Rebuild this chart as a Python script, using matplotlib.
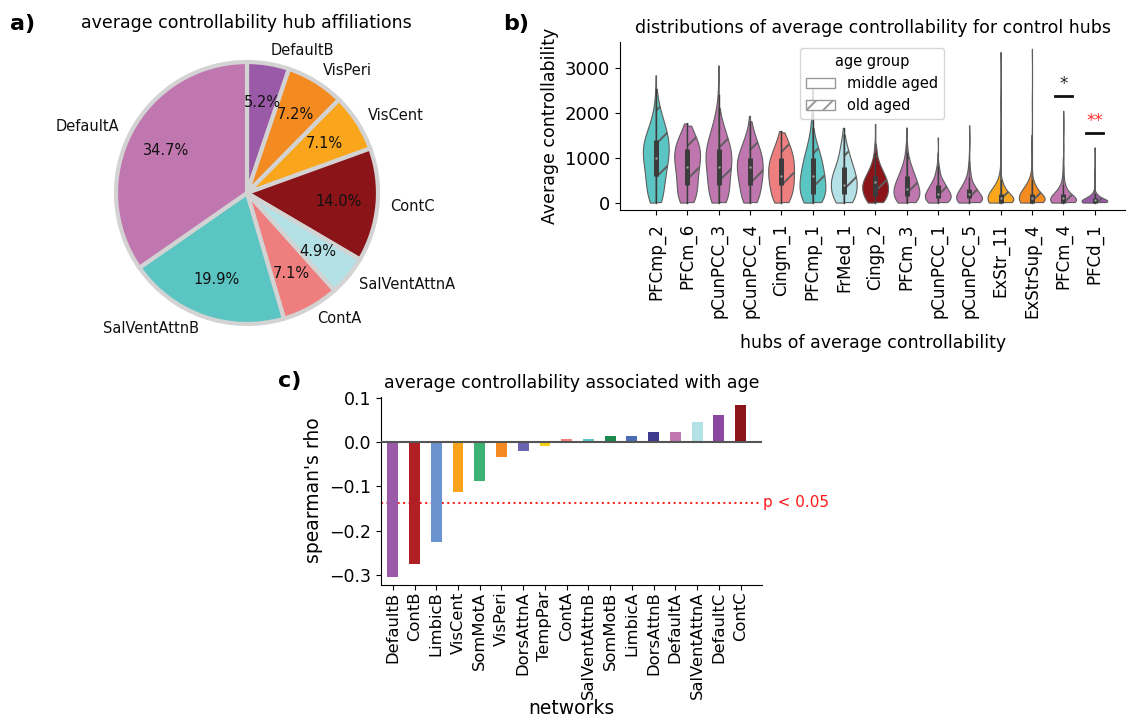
import numpy as np
import matplotlib
matplotlib.use('Agg')
import matplotlib.pyplot as plt
import matplotlib.transforms as mtransforms
from matplotlib.patches import Patch

# ---------------- Panel a: pie ----------------
pie_labels = ['DefaultB', 'VisPeri', 'VisCent', 'ContC', 'SalVentAttnA',
              'ContA', 'SalVentAttnB', 'DefaultA']
pie_values = [5.2, 7.2, 7.1, 14.0, 4.9, 7.1, 19.9, 34.7]
pie_colors = ['#9B5AA8', '#F48B21', '#F9A61C', '#8B1419', '#B3E1E6',
              '#EF7F7F', '#5BC5C4', '#C076AF']

# ---------------- Panel b: violins ----------------
hubs = ['PFCmp_2', 'PFCm_6', 'pCunPCC_3', 'pCunPCC_4', 'Cingm_1', 'PFCmp_1',
        'FrMed_1', 'Cingp_2', 'PFCm_3', 'pCunPCC_1', 'pCunPCC_5', 'ExStr_11',
        'ExStrSup_4', 'PFCm_4', 'PFCd_1']
hub_colors = ['#5BC5C4', '#C076AF', '#C076AF', '#C076AF', '#EF7F7F', '#5BC5C4',
              '#B3E1E6', '#8B1419', '#C076AF', '#C076AF', '#C076AF', '#F9A61C',
              '#F48B21', '#C076AF', '#9B5AA8']

# estimated value / frequency tables read from the violin shapes
mid_vals = [
    [0, 200, 400, 600, 800, 1000, 1200, 1400, 1600, 1800, 2000, 2300, 2830],
    [0, 200, 400, 600, 800, 1000, 1200, 1400, 1600, 1760],
    [0, 200, 400, 600, 800, 1000, 1200, 1400, 1600, 1800, 2000, 2400, 3050],
    [0, 200, 400, 600, 800, 1000, 1200, 1400, 1600, 1930],
    [0, 200, 400, 600, 800, 1000, 1200, 1400, 1590],
    [0, 200, 400, 600, 800, 1000, 1200, 1400, 1700, 2000, 2550],
    [0, 200, 400, 600, 800, 1000, 1200, 1400, 1660],
    [0, 150, 300, 450, 600, 750, 900, 1100, 1350, 1750],
    [0, 150, 300, 450, 600, 750, 900, 1100, 1300, 1670],
    [0, 100, 200, 300, 400, 500, 650, 800, 1000, 1450],
    [0, 100, 200, 300, 400, 500, 650, 850, 1100, 1720],
    [0, 100, 200, 300, 400, 500, 700, 1000, 1500, 2200, 3350],
    [0, 100, 200, 300, 400, 500, 700, 1000, 1500, 2200, 3420],
    [0, 100, 200, 300, 400, 550, 750, 1000, 1400, 2040],
    [0, 50, 100, 150, 200, 300, 450, 700, 1230],
]
mid_counts = [
    [5, 6, 6, 6, 7, 8, 9, 8, 5, 3, 2, 1, 1],
    [6, 6, 6, 6, 7, 8, 8, 6, 3, 1],
    [6, 6, 6, 6, 7, 8, 8, 6, 4, 3, 2, 1, 1],
    [6, 6, 7, 8, 9, 9, 6, 4, 2, 1],
    [6, 7, 8, 9, 9, 8, 5, 3, 1],
    [8, 9, 9, 8, 7, 6, 4, 3, 2, 1, 1],
    [7, 9, 10, 9, 6, 4, 3, 2, 1],
    [8, 10, 12, 12, 8, 5, 3, 2, 1, 1],
    [10, 12, 12, 10, 7, 5, 3, 2, 1, 1],
    [12, 14, 12, 9, 7, 5, 4, 2, 1, 1],
    [15, 14, 11, 8, 6, 4, 3, 2, 1, 1],
    [30, 25, 15, 8, 5, 3, 2, 1, 1, 1, 1],
    [28, 25, 16, 9, 5, 3, 2, 1, 1, 1, 1],
    [30, 25, 12, 6, 4, 3, 2, 1, 1, 1],
    [40, 30, 15, 8, 5, 3, 2, 1, 1],
]
old_vals = [
    [0, 200, 400, 600, 800, 1000, 1200, 1400, 1600, 1800, 2000, 2200, 2520],
    [0, 200, 400, 600, 800, 1000, 1200, 1400, 1600, 1700],
    [0, 200, 400, 600, 800, 1000, 1200, 1400, 1600, 1800, 2100],
    [0, 200, 400, 600, 800, 1000, 1200, 1400, 1600, 1800],
    [0, 200, 400, 600, 800, 1000, 1200, 1400, 1550],
    [0, 200, 400, 600, 800, 1000, 1200, 1400, 1650],
    [0, 200, 400, 600, 800, 1000, 1200, 1500],
    [0, 150, 300, 450, 600, 750, 900, 1100, 1300],
    [0, 150, 300, 450, 600, 750, 900, 1100, 1350],
    [0, 100, 200, 300, 400, 500, 650, 800, 1100],
    [0, 100, 200, 300, 400, 550, 700, 900],
    [0, 100, 200, 300, 400, 500, 700, 1000, 1400],
    [0, 100, 200, 300, 400, 500, 700, 1000, 1500],
    [0, 100, 200, 300, 400, 550, 750, 1000],
    [0, 50, 100, 150, 200, 300, 450, 700],
]
old_counts = [
    [5, 5, 5, 6, 7, 8, 9, 8, 7, 5, 3, 2, 1],
    [5, 6, 6, 6, 7, 8, 8, 6, 3, 1],
    [6, 6, 6, 6, 7, 8, 7, 5, 4, 2, 1],
    [6, 6, 7, 8, 8, 8, 6, 4, 2, 1],
    [6, 7, 8, 8, 8, 8, 6, 4, 1],
    [8, 9, 9, 8, 7, 6, 4, 2, 1],
    [7, 8, 9, 8, 6, 4, 3, 1],
    [8, 10, 11, 10, 8, 5, 3, 2, 1],
    [10, 12, 11, 9, 7, 5, 3, 2, 1],
    [12, 14, 12, 9, 7, 5, 3, 2, 1],
    [15, 14, 10, 7, 5, 3, 2, 1],
    [30, 25, 15, 8, 5, 3, 2, 1, 1],
    [28, 25, 15, 9, 5, 3, 2, 1, 1],
    [30, 24, 12, 6, 4, 3, 2, 1],
    [40, 30, 15, 8, 5, 3, 2, 1],
]
sig_hubs = ['PFCm_4', 'PFCd_1']
sig_levels = [2378, 1556]
sig_marks = ['*', '**']
sig_colors = ['#222222', '#FF3030']

# ---------------- Panel c: bars ----------------
networks = ['DefaultB', 'ContB', 'LimbicB', 'VisCent', 'SomMotA', 'VisPeri',
            'DorsAttnA', 'TempPar', 'ContA', 'SalVentAttnB', 'SomMotB',
            'LimbicA', 'DorsAttnB', 'DefaultA', 'SalVentAttnA', 'DefaultC', 'ContC']
rho = [-0.304, -0.276, -0.226, -0.112, -0.088, -0.034, -0.019, -0.009,
       0.007, 0.007, 0.013, 0.014, 0.023, 0.023, 0.046, 0.062, 0.083]
net_colors = ['#9B5AA8', '#B01F24', '#6B93CD', '#FBA31B', '#3BB273', '#F58A22',
              '#6A64B3', '#F5D312', '#F08080', '#5BC5C5', '#1D8A4D', '#4A6BB5',
              '#3E3A8C', '#C177B0', '#B3E2E6', '#8A48A0', '#8B1519']
p_thresh = -0.137

# ---------------------------------------------------------------
W, H = 1126, 718
fig = plt.figure(figsize=(W / 100, H / 100), dpi=100)
plt.rcParams['hatch.linewidth'] = 1.4


def px_axes(left, top, right, bottom):
    return fig.add_axes([left / W, 1 - bottom / H, (right - left) / W, (bottom - top) / H])


# ----- a) pie -----
R = 131
cx, cy = 247, 193
axa = px_axes(cx - 1.25 * R, cy - 1.25 * R, cx + 1.25 * R, cy + 1.25 * R)
axa.pie(pie_values, labels=pie_labels, colors=pie_colors, startangle=90,
        counterclock=False, autopct='%.1f%%', pctdistance=0.7, labeldistance=1.1,
        wedgeprops=dict(edgecolor='#D3D3D3', linewidth=3),
        textprops=dict(fontsize=10.5, color='#111111'))
axa.set_aspect('equal')
fig.text(246 / W, 1 - 23 / H, 'average controllability hub affiliations',
         ha='center', va='center', fontsize=12.5)
fig.text(23 / W, 1 - 24 / H, 'a)', ha='center', va='center', fontsize=16, fontweight='bold')

# ----- b) violins -----
axb = px_axes(620, 41.7, 1126, 210)
for i in range(len(hubs)):
    m = np.repeat(mid_vals[i], mid_counts[i])
    o = np.repeat(old_vals[i], old_counts[i])
    for data, side, hatch in [(m, 'low', None), (o, 'high', '/')]:
        vp = axb.violinplot([data], positions=[i], widths=0.84, side=side,
                            showextrema=False)
        body = vp['bodies'][0]
        body.set_facecolor(hub_colors[i])
        body.set_edgecolor('#5e5e5e')
        body.set_linewidth(0.8)
        body.set_alpha(1)
        if hatch:
            body.set_hatch(hatch)
    allv = np.concatenate([m, o])
    q1, med, q3 = np.percentile(allv, [25, 50, 75])
    iqr = q3 - q1
    lo = allv[allv >= q1 - 1.5 * iqr].min()
    hi = allv[allv <= q3 + 1.5 * iqr].max()
    axb.plot([i, i], [lo, hi], color='#3c3c3c', lw=1.0, zorder=3)
    axb.plot([i, i], [q1, q3], color='#3c3c3c', lw=3.6, zorder=3, solid_capstyle='butt')
    axb.scatter([i], [med], s=3, color='#9a9a9a', zorder=4, linewidths=0)

for h, lvl, mk, col in zip(sig_hubs, sig_levels, sig_marks, sig_colors):
    k = hubs.index(h)
    axb.plot([k - 0.27, k + 0.27], [lvl, lvl], color='#111111', lw=2)
    axb.text(k, lvl + 60, mk, ha='center', va='bottom', fontsize=12, color=col)

axb.set_xlim(-1.15, 15.0)
axb.set_ylim(-165, 3578)
axb.set_xticks(range(len(hubs)))
axb.set_xticklabels(hubs, rotation=90, fontsize=12)
axb.tick_params(axis='x', pad=6)
axb.set_yticks([0, 1000, 2000, 3000])
axb.tick_params(axis='y', labelsize=13)
axb.spines['top'].set_visible(False)
axb.spines['right'].set_visible(False)
axb.set_ylabel('Average controllability', fontsize=12.5)
axb.set_xlabel('hubs of average controllability', fontsize=12.5, labelpad=11)
axb.set_title('distributions of average controllability for control hubs', fontsize=12.5)
handles = [Patch(facecolor='white', edgecolor='#999999', label='middle aged'),
           Patch(facecolor='white', edgecolor='#999999', hatch='//', label='old aged')]
axb.legend(handles=handles, title='age group', loc='upper left',
           bbox_to_anchor=((800 - 620) / 506, (210 - 48) / 168.3), borderaxespad=0,
           fontsize=10.5, title_fontsize=10.5)
fig.text(516 / W, 1 - 24 / H, 'b)', ha='center', va='center', fontsize=16, fontweight='bold')

# ----- c) bars -----
axc = px_axes(380.7, 396.7, 762.3, 584.5)
xpos = np.arange(len(networks))
axc.bar(xpos, rho, width=0.5, color=net_colors, zorder=2)
axc.axhline(0, color='#555555', lw=1.5, zorder=3)
axc.axhline(p_thresh, color='red', ls=':', lw=1.5, alpha=0.85, zorder=1)
trans = mtransforms.blended_transform_factory(axc.transAxes, axc.transData)
axc.text(1.003, p_thresh, 'p < 0.05', transform=trans, color='red', alpha=0.9,
         ha='left', va='center', fontsize=11)
axc.set_xlim(-0.556, 17.0)
axc.set_ylim(-0.3214, 0.1027)
axc.set_xticks(xpos)
axc.set_xticklabels(networks, rotation=90, fontsize=11.8)
axc.tick_params(axis='x', pad=1.5)
axc.set_yticks([-0.3, -0.2, -0.1, 0.0, 0.1])
axc.tick_params(axis='y', labelsize=12.5)
axc.spines['top'].set_visible(False)
axc.spines['right'].set_visible(False)
axc.set_ylabel("spearman's rho", fontsize=13.5)
axc.set_xlabel('networks', fontsize=13.5, labelpad=0)
axc.set_title('average controllability associated with age', fontsize=12.5)
fig.text(290 / W, 1 - 381 / H, 'c)', ha='center', va='center', fontsize=16, fontweight='bold')

fig.savefig('out.png', dpi=100)
